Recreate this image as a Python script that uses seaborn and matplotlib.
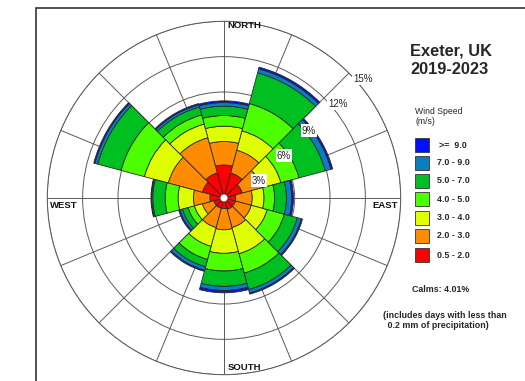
import numpy as np
import matplotlib
matplotlib.use("Agg")
import matplotlib.pyplot as plt
from matplotlib.patches import Rectangle
import seaborn as sns

# Wind directions (degrees, clockwise from north), one bar per 30-degree sector
directions_deg = [0, 30, 60, 90, 120, 150, 180, 210, 240, 270, 300, 330]

# Frequency (%) of each wind-speed class per direction sector
freq_05_20 = [2.8, 2.2, 1.6, 1.0, 1.0, 1.0, 0.9, 0.9, 0.9, 1.2, 1.9, 2.2]
freq_20_30 = [2.0, 2.0, 1.7, 1.4, 1.4, 1.6, 1.8, 1.7, 1.0, 1.4, 3.0, 3.1]
freq_30_40 = [1.3, 1.7, 1.7, 1.0, 1.4, 2.3, 2.0, 1.65, 0.7, 1.3, 2.1, 1.2]
freq_40_50 = [0.9, 2.4, 1.6, 0.9, 1.5, 1.7, 1.5, 1.15, 0.55, 1.1, 2.05, 0.8]
freq_50_70 = [0.8, 2.7, 2.3, 1.0, 1.15, 1.45, 1.3, 0.65, 0.5, 1.05, 2.05, 0.7]
freq_70_90 = [0.3, 0.35, 0.5, 0.45, 0.35, 0.3, 0.35, 0.3, 0.23, 0.1, 0.25, 0.2]
freq_90_up = [0.15, 0.15, 0.15, 0.15, 0.1, 0.1, 0.2, 0.1, 0.1, 0.05, 0.1, 0.1]

speed_labels = ["0.5 - 2.0", "2.0 - 3.0", "3.0 - 4.0", "4.0 - 5.0",
                "5.0 - 7.0", "7.0 - 9.0", ">=  9.0"]
ring_levels = [3, 6, 9, 12, 15]
calms_pct = 4.01

speed_freqs = [freq_05_20, freq_20_30, freq_30_40, freq_40_50,
               freq_50_70, freq_70_90, freq_90_up]
palette = sns.color_palette(["#FF0000", "#FF8C00", "#DFFF00", "#4CFF00",
                             "#00BF20", "#0A7FC0", "#0010FF"])

sns.set_style("white")
plt.rcParams["font.family"] = ["Liberation Sans", "DejaVu Sans"]

W, H = 525, 381
fig = plt.figure(figsize=(W / 100, H / 100), dpi=100)


def fx(px):
    return px / W


def fy(py):
    return 1 - py / H


# outer frame
fig.add_artist(Rectangle((fx(36), -0.05), 1.0, fy(7.5) + 0.05,
                         transform=fig.transFigure, fill=False,
                         ec="#333333", lw=1.2))

# polar axes centred on the rose
cx, cy, R = 224, 198, 176.7
ax = fig.add_axes([fx(cx - R), fy(cy + R), 2 * R / W, 2 * R / H],
                  projection="polar")
ax.set_theta_zero_location("N")
ax.set_theta_direction(-1)
ax.set_ylim(0, 15)
ax.set_yticks(ring_levels)
ax.set_yticklabels([])
ax.set_xticks(np.radians(np.arange(0, 360, 22.5)))
ax.set_xticklabels([])
ax.grid(True, color="#5a5a5a", lw=0.7)
ax.spines["polar"].set_color("#5a5a5a")
ax.spines["polar"].set_linewidth(0.7)
ax.set_axisbelow(True)
ax.patch.set_alpha(0)

theta = np.radians(directions_deg)
bottom = np.zeros(len(directions_deg))
for freqs, col in zip(speed_freqs, palette):
    vals = np.array(freqs)
    ax.bar(theta, vals, width=np.radians(30), bottom=bottom, color=col,
           edgecolor="#2a2a2a", linewidth=0.6, align="center", zorder=3)
    bottom += vals

# calm centre
ax.bar(0, 0.3, width=2 * np.pi, bottom=0, color="white", edgecolor="none",
       zorder=4)

# ring percentage labels along the NE spoke
for r in ring_levels:
    off = (3, -7.5) if r <= 9 else (4, -5.5)
    ax.annotate(f"{r}%", xy=(np.radians(45), r), xytext=off,
                textcoords="offset pixels", ha="left", va="center",
                fontsize=7, zorder=6,
                bbox=dict(boxstyle="square,pad=0.12", fc="white", ec="none"))

# compass labels
lab = dict(fontsize=6.8, fontweight="bold", color="#111111")
fig.text(fx(227), fy(26), "NORTH", ha="left", va="center", **lab)
fig.text(fx(228), fy(367.5), "SOUTH", ha="left", va="center", **lab)
fig.text(fx(50), fy(205.5), "WEST", ha="left", va="center", **lab)
fig.text(fx(398), fy(205.5), "EAST", ha="right", va="center", **lab)

# title
fig.text(fx(410), fy(51), "Exeter, UK", ha="left", va="center",
         fontsize=11.8, fontweight="bold")
fig.text(fx(410), fy(69.5), "2019-2023", ha="left", va="center",
         fontsize=11.8, fontweight="bold")

# legend
fig.text(fx(415), fy(111), "Wind Speed", ha="left", va="center", fontsize=6.2)
fig.text(fx(415), fy(121), "(m/s)", ha="left", va="center", fontsize=6.2)
box_y = [255, 235.7, 217.7, 199, 180.7, 162.7, 145.3]
for label, col, yc in zip(speed_labels, palette, box_y):
    fig.add_artist(Rectangle((fx(415), fy(yc + 6.8)), 14.3 / W, 13.6 / H,
                             transform=fig.transFigure, fc=col,
                             ec="#333333", lw=0.6))
    x0 = 439 if label.startswith(">=") else 436.7
    fig.text(fx(x0), fy(yc), label, ha="left", va="center",
             fontsize=6.4, fontweight="bold")

fig.text(fx(412), fy(289), f"Calms: {calms_pct:.2f}%", ha="left",
         va="center", fontsize=6.4, fontweight="bold")
fig.text(fx(383), fy(316), "(includes days with less than", ha="left",
         va="center", fontsize=6.4, fontweight="bold")
fig.text(fx(385), fy(326), " 0.2 mm of precipitation)", ha="left",
         va="center", fontsize=6.4, fontweight="bold")

fig.savefig("out.png", dpi=100, facecolor="white")
